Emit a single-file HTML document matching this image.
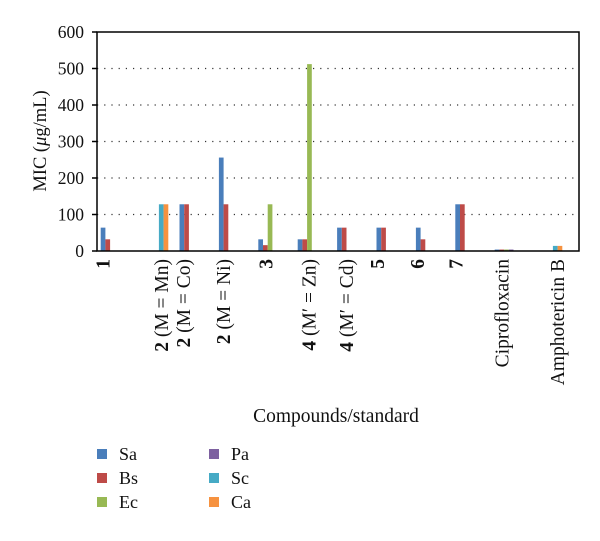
<!DOCTYPE html>
<html><head><meta charset="utf-8"><style>
body{margin:0;background:#fff;}
svg text{font-family:"Liberation Serif",serif;fill:#111;}
</style></head><body>
<svg id="chart" width="600" height="536">
<g id="grid"></g><g id="bars"></g><g id="axes"></g><g id="xlabels"></g>
<text x="0" y="0" transform="translate(46,141) rotate(-90)" text-anchor="middle" font-size="18.5">MIC (<tspan font-style="italic">μ</tspan>g/mL)</text>
<text x="336" y="422" text-anchor="middle" font-size="19.5">Compounds/standard</text>
<g id="legend"></g>
</svg>
<script>
const categories=["1","2 (M = Mn)","2 (M = Co)","2 (M = Ni)","3","4 (M′ = Zn)","4 (M′ = Cd)","5","6","7","Ciprofloxacin","Amphotericin B"];
const boldPart=["1","2","2","2","3","4","4","5","6","7","",""];
const restPart=[""," (M = Mn)"," (M = Co)"," (M = Ni)",""," (M′ = Zn)"," (M′ = Cd)","","","","Ciprofloxacin","Amphotericin B"];
const seriesNames=["Sa","Bs","Ec","Pa","Sc","Ca"];
const Sa=[64,0,128,256,32,32,64,64,64,128,4,0];
const Bs=[32,0,128,128,16,32,64,64,32,128,4,0];
const Ec=[0,0,0,0,128,512,0,0,0,0,4,0];
const Pa=[0,0,0,0,0,0,0,0,0,0,4,0];
const Sc=[0,128,0,0,0,0,0,0,0,0,0,14];
const Ca=[0,128,0,0,0,0,0,0,0,0,0,14];
const yTicks=[0,100,200,300,400,500,600];
const labelShift=[9,28,10.5,11,14,18,16,7.5,8,7,14,30];
const colors=["#4a7ebb","#be4b48","#98b954","#7d60a0","#46aac5","#f69240"];
const series=[Sa,Bs,Ec,Pa,Sc,Ca];
const NS="http://www.w3.org/2000/svg";
const L=97,R=579,T=32,B=251,step=39.4,bw=4.7,off=3.7;
const y=v=>B-(v/600)*(B-T);
const x=(i,s)=>L+i*step+off+s*bw;
function mk(tag,attrs,parent){const e=document.createElementNS(NS,tag);for(const k in attrs)e.setAttribute(k,attrs[k]);document.getElementById(parent).appendChild(e);return e;}
yTicks.forEach((t,k)=>{
 if(t>0&&t<600){const g=mk("line",{x1:L,x2:R,y1:y(t),y2:y(t),stroke:"#333","stroke-width":1.2,"stroke-dasharray":"1.2 6"},"grid");
 
 }
 const tk=mk("line",{x1:L-5,x2:L,y1:y(t),y2:y(t),stroke:"#000","stroke-width":1.5},"axes");
 
 
 const tl=mk("text",{x:L-13,y:y(t)+6,"text-anchor":"end","font-size":17.5},"axes");
 tl.textContent=t;
 
 
});
const fr=mk("rect",{x:L,y:T,width:R-L,height:B-T,fill:"none",stroke:"#000","stroke-width":1.5},"axes");


series.forEach((arr,s)=>arr.forEach((v,i)=>{
 if(v<=0)return;
 const r=mk("rect",{x:x(i,s),y:y(v),width:bw,height:B-y(v),fill:colors[s]},"bars");
 
 
}));
categories.forEach((c,i)=>{
 const lx=x(i,0)+labelShift[i];
 const t=mk("text",{transform:`translate(${lx},259) rotate(-90)`,"text-anchor":"end","font-size":19.5},"xlabels");
 if(boldPart[i]){const b=document.createElementNS(NS,"tspan");b.setAttribute("font-weight","bold");b.textContent=boldPart[i];t.appendChild(b);}
 if(restPart[i]){const r=document.createElementNS(NS,"tspan");r.textContent=restPart[i];t.appendChild(r);}
 
 
});
seriesNames.forEach((n,s)=>{
 const col=Math.floor(s/3),row=s%3;
 const lx=97+col*112,ly=454+row*24;
 const g=document.createElementNS(NS,"g");document.getElementById("legend").appendChild(g);
 
 
 const sq=document.createElementNS(NS,"rect");sq.setAttribute("x",lx);sq.setAttribute("y",ly-5);sq.setAttribute("width",10);sq.setAttribute("height",10);sq.setAttribute("fill",colors[s]);g.appendChild(sq);
 const tx=document.createElementNS(NS,"text");tx.setAttribute("x",lx+22);tx.setAttribute("y",ly+6);tx.setAttribute("font-size",18);tx.textContent=n;g.appendChild(tx);
});
</script>
</body></html>
